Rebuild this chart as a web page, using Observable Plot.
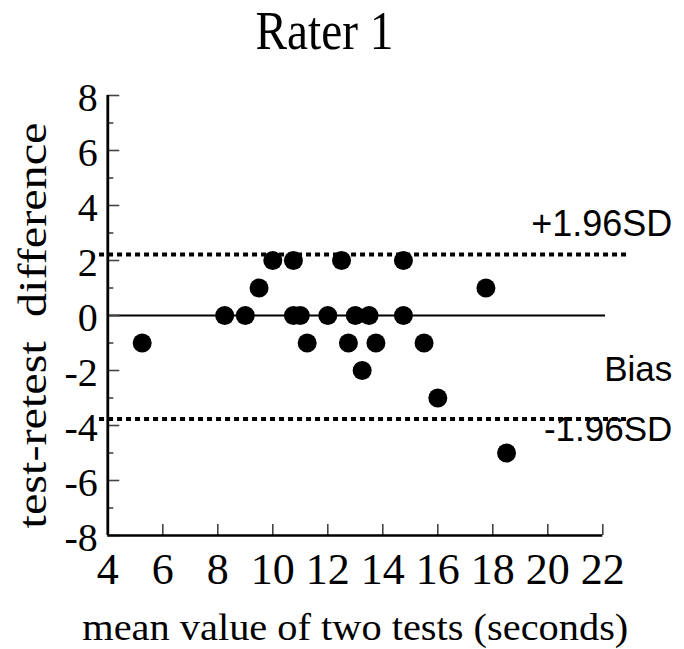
<!DOCTYPE html>
<html>
<head>
<meta charset="utf-8">
<script src="https://cdn.jsdelivr.net/npm/d3@7"></script>
<script src="https://cdn.jsdelivr.net/npm/@observablehq/plot@0.6"></script>
<style>
  html, body { margin: 0; padding: 0; background: #fff; }
</style>
</head>
<body>
<div id="chart"></div>
<script>
// ---- data ----
const meanValues = [5.25, 8.25, 9.0, 9.5, 10.0, 10.75, 10.75, 11.0, 11.25, 12.0, 12.5, 12.75, 13.0, 13.25, 13.5, 13.75, 14.75, 14.75, 15.5, 16.0, 17.75, 18.5];
const differences = [-1, 0, 0, 1, 2, 2, 0, 0, -1, 0, 2, -1, 0, -2, 0, -1, 2, 0, -1, -3, 1, -5];
const biasValue = 0;
const upperLimit = 2.22;
const lowerLimit = -3.76;
const xTicks = [4, 6, 8, 10, 12, 14, 16, 18, 20, 22];
const xTickLabels = ["4", "6", "8", "10", "12", "14", "16", "18", "20", "22"];
const yTicks = [8, 6, 4, 2, 0, -2, -4, -6, -8];
const yTickLabels = ["8", "6", "4", "2", "0", "-2", "-4", "-6", "-8"];
const yMinorTicks = [7, 5, 3, 1, -1, -3, -5, -7];
const titleText = "Rater 1";
const xLabel = "mean value of two tests (seconds)";
const yLabel = "test-retest  difference";
const upperLabel = "+1.96SD";
const biasLabel = "Bias";
const lowerLabel = "-1.96SD";

// ---- layout ----
const W = 684, H = 649;
const mL = 107.3, mR = 81.7, mT = 95, mB = 114;
const xDomain = [4, 22], yDomain = [-8, 8];
const pxPerX = (W - mL - mR) / (xDomain[1] - xDomain[0]);
const pxPerY = (H - mT - mB) / (yDomain[1] - yDomain[0]);

const points = meanValues.map((m, i) => ({mean: m, diff: differences[i]}));
const serif = "Liberation Serif, Times New Roman, serif";
const sans = "Liberation Sans, Arial, sans-serif";

const chart = Plot.plot({
  width: W,
  height: H,
  marginLeft: mL,
  marginRight: mR,
  marginTop: mT,
  marginBottom: mB,
  style: {overflow: "visible", background: "#fff", color: "#000"},
  x: {domain: xDomain, axis: null},
  y: {domain: yDomain, axis: null},
  marks: [
    // limits of agreement (dotted)
    Plot.ruleY([upperLimit, lowerLimit], {x1: 3.7, x2: 22.9, stroke: "#000", strokeWidth: 4, strokeDasharray: "5,4"}),
    // bias line
    Plot.ruleY([biasValue], {x1: 4, x2: 22.1, stroke: "#000", strokeWidth: 2.2}),
    // ticks (inward)
    Plot.ruleY(yTicks, {x1: xDomain[0], x2: xDomain[0] + 12 / pxPerX, stroke: "#444", strokeWidth: 1.6}),
    Plot.ruleY(yMinorTicks, {x1: xDomain[0], x2: xDomain[0] + 6 / pxPerX, stroke: "#444", strokeWidth: 1.6}),
    Plot.ruleX(xTicks, {y1: yDomain[0], y2: yDomain[0] + 11 / pxPerY, stroke: "#444", strokeWidth: 1.6}),
    // axis lines
    Plot.ruleX([xDomain[0]], {y1: yDomain[0], y2: yDomain[1], stroke: "#000", strokeWidth: 2.8}),
    Plot.ruleY([yDomain[0]], {x1: xDomain[0], x2: xDomain[1], stroke: "#000", strokeWidth: 2.6}),
    // tick labels
    Plot.text(yTicks, {x: xDomain[0], y: d => d, text: (d, i) => yTickLabels[i], textAnchor: "end", lineAnchor: "middle", dx: -10, dy: 3, fontSize: 40, fontFamily: serif, fill: "#000"}),
    Plot.text(xTicks, {x: d => d, y: yDomain[0], text: (d, i) => xTickLabels[i], lineAnchor: "middle", dy: 34, fontSize: 44, fontFamily: serif, fill: "#000"}),
    // dots
    Plot.dot(points, {x: "mean", y: "diff", r: 9.5, fill: "#000", stroke: null}),
    // line labels
    Plot.text([upperLabel], {frameAnchor: "right", y: upperLimit, text: d => d, textAnchor: "end", lineAnchor: "middle", dx: 69.5, dy: -30, fontSize: 36, fontFamily: sans, fill: "#000"}),
    Plot.text([biasLabel], {frameAnchor: "right", y: biasValue, text: d => d, textAnchor: "end", lineAnchor: "middle", dx: 69.5, dy: 54, fontSize: 35, fontFamily: sans, fill: "#000"}),
    Plot.text([lowerLabel], {frameAnchor: "right", y: lowerLimit, text: d => d, textAnchor: "end", lineAnchor: "middle", dx: 69.5, dy: 10.5, fontSize: 35, fontFamily: sans, fill: "#000"}),
    // title & axis labels
    Plot.text([titleText], {frameAnchor: "top", text: d => d, textAnchor: "middle", lineAnchor: "middle", dx: -30.8, dy: -64, fontSize: 54, fontFamily: serif, fill: "#000"}),
    Plot.text([xLabel], {frameAnchor: "bottom", text: d => d, textAnchor: "middle", lineAnchor: "middle", dy: 93, fontSize: 37, fontFamily: serif, fill: "#000"}),
    Plot.text([yLabel], {frameAnchor: "left", text: d => d, rotate: -90, textAnchor: "middle", lineAnchor: "middle", dx: -75, dy: 10, fontSize: 40, fontFamily: serif, fill: "#000"})
  ]
});

// stretch/compress the long labels to the widths seen in the reference
const lengths = {[titleText]: 138, [xLabel]: 546, [yLabel]: 406};
d3.select(chart).selectAll("text").each(function() {
  const t = this.textContent;
  if (t in lengths) {
    this.setAttribute("textLength", lengths[t]);
    this.setAttribute("lengthAdjust", "spacingAndGlyphs");
    this.style.whiteSpace = "pre";
  }
});

document.getElementById("chart").appendChild(chart);
</script>
</body>
</html>
